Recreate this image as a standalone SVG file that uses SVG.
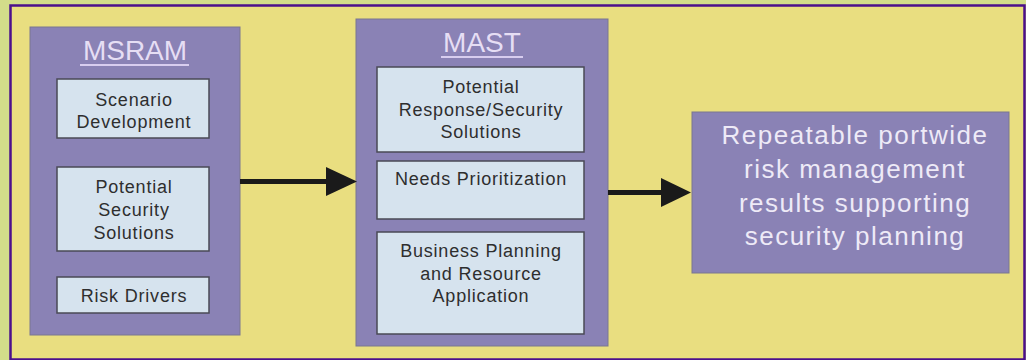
<svg xmlns="http://www.w3.org/2000/svg" width="1026" height="360" viewBox="0 0 1026 360">
<style>
.bg{fill:#d3dd8a}
.frame{fill:#e9de80;stroke:#4b0f8c;stroke-width:2.5}
.group{fill:#8a82b5;stroke:#7a7690;stroke-width:1}
.item{fill:#d6e3ee;stroke:#4a4a55;stroke-width:1.5}
.title{font-family:"Liberation Sans",Arial,sans-serif;font-size:28px;fill:#e6def4;text-anchor:middle}
.ul{stroke:#d8cdef;stroke-width:2}
.t{font-family:"Liberation Sans",Arial,sans-serif;font-size:18px;letter-spacing:0.8px;fill:#2e2e2e;text-anchor:middle}
.big{font-family:"Liberation Sans",Arial,sans-serif;font-size:26px;letter-spacing:1.5px;fill:#eeeaf7;text-anchor:middle}
.conn{stroke:#1a1a1a;stroke-width:5;fill:none}
.head{fill:#1a1a1a}
</style>
<rect class="bg" x="0" y="0" width="1026" height="360"/>
<rect class="frame" x="10.5" y="5.5" width="1014" height="354"/>

<g id="msram">
<rect class="group" x="30" y="27" width="210" height="308"/>
<text class="title" x="135" y="60">MSRAM</text>
<line class="ul" x1="80" y1="65" x2="189" y2="65"/>
<g id="scenario">
<rect class="item" x="57" y="79" width="152" height="59"/>
<text class="t" x="134" y="106">Scenario</text>
<text class="t" x="134" y="128">Development</text>
</g>
<g id="potential-security">
<rect class="item" x="57" y="167" width="152" height="84"/>
<text class="t" x="134" y="193">Potential</text>
<text class="t" x="134" y="216">Security</text>
<text class="t" x="134" y="239">Solutions</text>
</g>
<g id="risk-drivers">
<rect class="item" x="57" y="277" width="152" height="36"/>
<text class="t" x="134" y="302">Risk Drivers</text>
</g>
</g>

<g id="mast">
<rect class="group" x="356" y="19" width="252" height="327"/>
<text class="title" x="482" y="52">MAST</text>
<line class="ul" x1="441" y1="57" x2="523" y2="57"/>
<g id="response">
<rect class="item" x="377" y="67" width="207" height="85"/>
<text class="t" x="481" y="93">Potential</text>
<text class="t" x="481" y="116">Response/Security</text>
<text class="t" x="481" y="138">Solutions</text>
</g>
<g id="needs">
<rect class="item" x="377" y="161" width="207" height="58"/>
<text class="t" x="481" y="185">Needs Prioritization</text>
</g>
<g id="business">
<rect class="item" x="377" y="232" width="207" height="102"/>
<text class="t" x="481" y="257">Business Planning</text>
<text class="t" x="481" y="280">and Resource</text>
<text class="t" x="481" y="302">Application</text>
</g>
</g>

<g id="result">
<rect class="group" x="692" y="112" width="317" height="161"/>
<text class="big" x="855" y="144">Repeatable portwide</text>
<text class="big" x="855" y="178">risk management</text>
<text class="big" x="855" y="212">results supporting</text>
<text class="big" x="855" y="245">security planning</text>
</g>

<g id="connectors">
<line class="conn" x1="240" y1="181.5" x2="328" y2="181.5"/>
<polygon class="head" points="326,167 357,181.5 326,196"/>
<line class="conn" x1="608" y1="192.5" x2="663" y2="192.5"/>
<polygon class="head" points="661,178 691,192.5 661,207"/>
</g>
</svg>
